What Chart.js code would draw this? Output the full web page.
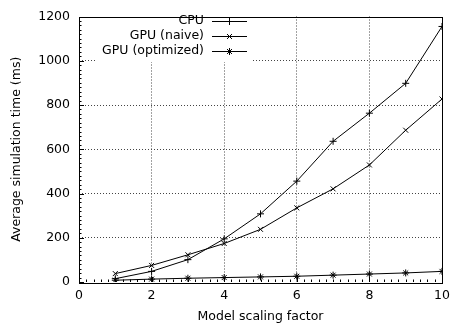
<!DOCTYPE html>
<html>
<head>
<meta charset="utf-8">
<script src="https://cdn.jsdelivr.net/npm/chart.js@4"></script>
<style>
  html, body { margin: 0; padding: 0; background: #fff; }
  canvas { display: block; }
</style>
</head>
<body>
<canvas id="chart" width="456" height="329"></canvas>
<script>
// scaling factors and timings (ms)
const scaleFactors = [1, 2, 3, 4, 5, 6, 7, 8, 9, 10];
const cpuTimes = [15, 48, 101, 195, 308, 456, 636, 763, 898, 1155];
const gpuNaiveTimes = [38, 75, 123, 174, 238, 335, 421, 529, 686, 827];
const gpuOptTimes = [8, 13, 17, 20, 23, 26, 31, 36, 41, 48];

const seriesNames = ['CPU', 'GPU (naive)', 'GPU (optimized)'];
const seriesMarkers = ['cross', 'crossRot', 'star'];

const xTicks = [0, 2, 4, 6, 8, 10];
const yTicks = [0, 200, 400, 600, 800, 1000, 1200];

const FONT = 'DejaVu Sans';
const FSIZE = 12.5;
Chart.defaults.font.family = FONT;
Chart.defaults.font.size = FSIZE;
Chart.defaults.color = '#000';

const toPoints = (ys) => scaleFactors.map((x, i) => ({x: x, y: ys[i]}));

const allSeries = [cpuTimes, gpuNaiveTimes, gpuOptTimes];
const datasets = allSeries.map((ys, i) => ({
  label: seriesNames[i],
  data: toPoints(ys),
  borderColor: '#000',
  backgroundColor: '#000',
  borderWidth: 1,
  pointStyle: seriesMarkers[i],
  pointRadius: 3.5,
  pointBorderWidth: 1,
  pointBorderColor: '#000',
  tension: 0,
  fill: false
}));

// gnuplot-style frame, inward ticks and opaque key
const frame = {
  id: 'frame',
  beforeDatasetsDraw(chart) {
    const ctx = chart.ctx;
    ctx.save();
    // white box behind key, hides the grid
    ctx.fillStyle = '#fff';
    ctx.fillRect(96, 15, 157, 47);
    ctx.restore();
  },
  afterDatasetsDraw(chart) {
    const ctx = chart.ctx;
    const a = chart.chartArea;
    const xs = chart.scales.x, ys = chart.scales.y;
    ctx.save();
    ctx.strokeStyle = '#000';
    ctx.lineWidth = 1;
    ctx.beginPath();
    // minor / major ticks on x
    for (let v = 0; v <= 10.001; v += 0.2) {
      const px = Math.round(xs.getPixelForValue(v)) + 0.5;
      const major = Math.abs(v / 2 - Math.round(v / 2)) < 0.01;
      const len = major ? 5 : 2.5;
      ctx.moveTo(px, a.bottom);
      ctx.lineTo(px, a.bottom - len);
    }
    // minor / major ticks on y
    for (let v = 0; v <= 1200.01; v += 20) {
      const py = Math.round(ys.getPixelForValue(v)) + 0.5;
      const major = v % 200 === 0;
      const len = major ? 5 : 2.5;
      ctx.moveTo(a.left, py);
      ctx.lineTo(a.left + len, py);
    }
    ctx.stroke();
    ctx.strokeRect(Math.round(a.left) + 0.5, Math.round(a.top) + 0.5,
      Math.round(a.right - a.left), Math.round(a.bottom - a.top));

    // key
    ctx.font = FSIZE + 'px "' + FONT + '"';
    ctx.textAlign = 'right';
    ctx.textBaseline = 'middle';
    ctx.fillStyle = '#000';
    const rows = [21, 36, 51];
    chart.data.datasets.forEach((ds, i) => {
      const y = rows[i];
      ctx.fillText(ds.label, 204, y);
      ctx.beginPath();
      ctx.moveTo(212, y + 0.5);
      ctx.lineTo(247, y + 0.5);
      ctx.stroke();
      Chart.helpers.drawPoint(ctx, {pointStyle: ds.pointStyle, radius: 3.5, borderWidth: 1}, 229.5, y + 0.5);
    });
    ctx.restore();
  }
};

new Chart(document.getElementById('chart'), {
  type: 'line',
  data: { datasets: datasets },
  options: {
    responsive: false,
    animation: false,
    devicePixelRatio: 1,
    layout: { padding: { top: 8, right: 14, left: 0, bottom: 0 } },
    plugins: {
      legend: { display: false },
      tooltip: { enabled: false }
    },
    scales: {
      x: {
        type: 'linear',
        min: 0,
        max: 10,
        afterBuildTicks: (s) => { s.ticks = xTicks.map(v => ({value: v})); },
        afterFit: (s) => { s.height = 47; },
        ticks: { padding: 6, maxRotation: 0, callback: (v) => String(v) },
        grid: {
          drawTicks: false,
          color: (c) => (c.tick && c.tick.value > 0 && c.tick.value < 10) ? '#444' : 'rgba(0,0,0,0)',
          lineWidth: 1
        },
        border: { display: false, dash: [1, 2] },
        title: { display: true, text: 'Model scaling factor', padding: { top: 4, bottom: 5 } }
      },
      y: {
        type: 'linear',
        min: 0,
        max: 1200,
        afterBuildTicks: (s) => { s.ticks = yTicks.map(v => ({value: v})); },
        afterFit: (s) => { s.width = 79; },
        ticks: { padding: 9, callback: (v) => String(v) },
        grid: {
          drawTicks: false,
          color: (c) => (c.tick && c.tick.value > 0 && c.tick.value < 1200) ? '#444' : 'rgba(0,0,0,0)',
          lineWidth: 1
        },
        border: { display: false, dash: [1, 2] },
        title: { display: true, text: 'Average simulation time (ms)', padding: { top: 9, bottom: 4 } }
      }
    }
  },
  plugins: [frame]
});
</script>
</body>
</html>
